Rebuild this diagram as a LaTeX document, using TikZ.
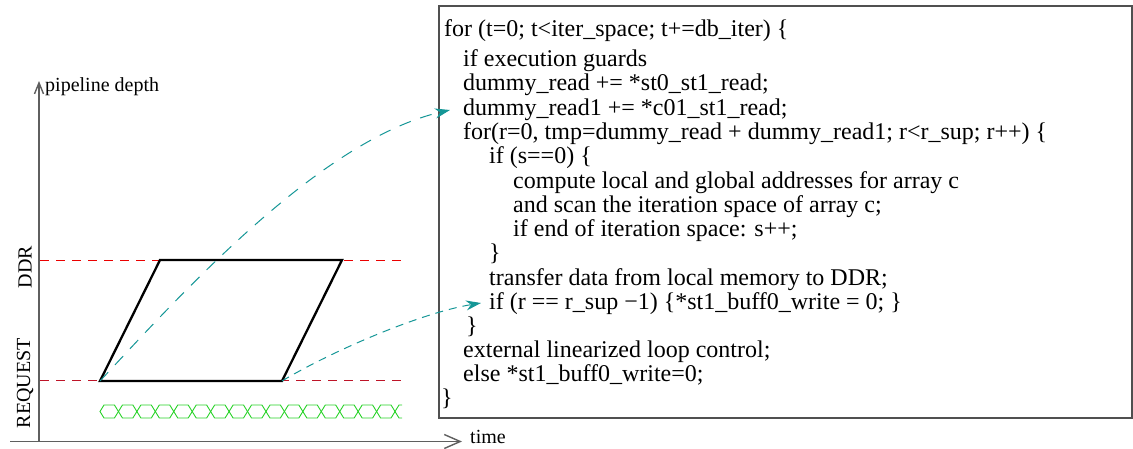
\documentclass[tikz,border=0pt]{standalone}
\usepackage{fontspec}
\setmainfont{Liberation Serif}
\usetikzlibrary{arrows.meta}
\definecolor{tealc}{RGB}{20,150,150}
\definecolor{redc}{RGB}{235,0,0}
\definecolor{darkredc}{RGB}{190,20,40}
\definecolor{greenc}{RGB}{40,210,40}
\definecolor{axisc}{RGB}{95,95,95}
\definecolor{boxc}{RGB}{80,80,80}
\begin{document}
\begin{tikzpicture}[x=1pt,y=-1pt,
  codeline/.style={anchor=base west, inner sep=0pt, font=\fontsize{24}{24}\selectfont},
  lbl/.style={inner sep=0pt, font=\fontsize{20}{24}\selectfont},
  axisline/.style={draw=axisc, line width=1.4pt},
  levelline/.style={line width=1pt, dash pattern=on 9pt off 7pt},
  pipe/.style={draw=black, line width=2.3pt, line join=miter},
  link/.style={draw=tealc, line width=1pt},
  chain/.style={draw=greenc, line width=0.9pt}]
\useasboundingbox (0,0) rectangle (1133,448);

% axes
\coordinate (o) at (39,441.5);
\coordinate (ytop) at (39,81);
\coordinate (xleft) at (10,441.5);
\coordinate (xright) at (462,441.5);
\draw[axisline, -{Straight Barb[length=11pt,width=9pt]}] (o) -- (ytop);
\draw[axisline, -{Straight Barb[length=16pt,width=14pt]}] (xleft) -- (xright);
\node[lbl, anchor=base west] (pd) at (45,91) {pipeline depth};
\node[lbl, anchor=base west] (tm) at (470,443) {time};
\node[lbl, rotate=90] (ddr) at (25,267) {DDR};
\node[lbl, rotate=90] (req) at (25,383) {REQUEST};

% levels
\coordinate (d0) at (40,260);
\coordinate (d1) at (402,260);
\coordinate (r0) at (40,380.5);
\coordinate (r1) at (402,380.5);
\draw[levelline, draw=redc] (d0) -- (d1);
\draw[levelline, draw=darkredc] (r0) -- (r1);

% pipeline parallelogram
\coordinate (A) at (100,381);
\coordinate (B) at (160,260);
\coordinate (C) at (342,260);
\coordinate (D) at (282,381);
\draw[pipe] (A) -- (B) -- (C) -- (D) -- cycle;

% green chain
\foreach \i in {0,...,15} {
  \pgfmathsetmacro\xx{100+18.44*\i}
  \draw[chain] (\xx,411.5) -- ++(4,-6.5) -- ++(10.44,0) -- ++(4,6.5) -- ++(-4,6.5) -- ++(-10.44,0) -- cycle;
}
\draw[chain] (402,405) -- (399,405) -- (395,411.5) -- (399,418) -- (402,418);

% code box
\draw[draw=boxc, line width=1.2pt] (439,6) rectangle (1132,418);
\node[codeline] (l1) at (444,36) {for (t=0; t<iter\_space; t+=db\_iter) \{};
\node[codeline] (l2) at (463,66) {if execution guards};
\node[codeline] (l3) at (463,90) {dummy\_read += *st0\_st1\_read;};
\node[codeline] (l4) at (463,115) {dummy\_read1 += *c01\_st1\_read;};
\node[codeline] (l5) at (463,139) {for(r=0, tmp=dummy\_read + dummy\_read1; r<r\_sup; r++) \{};
\node[codeline] (l6) at (489,163) {if (s==0) \{};
\node[codeline] (l7) at (513,188) {compute local and global addresses for array c};
\node[codeline] (l8) at (513,212) {and scan the iteration space of array c;};
\node[codeline] (l9) at (513,236) {if end of iteration space: s++;};
\node[codeline] (l10) at (489,260) {\}};
\node[codeline] (l11) at (489,285) {transfer data from local memory to DDR;};
\node[codeline] (l12) at (489,309) {if (r == r\_sup −1) \{*st1\_buff0\_write = 0; \}};
\node[codeline] (l13) at (466,333) {\}};
\node[codeline] (l14) at (463,357) {external linearized loop control;};
\node[codeline] (l15) at (463,381) {else *st1\_buff0\_write=0;};
\node[codeline] (l16) at (441,405) {\}};

% links
\coordinate (t1) at (450,110);
\coordinate (t2) at (481,303);
\draw[link, dash pattern=on 12pt off 10pt, -{Stealth[length=15pt,width=10pt,fill=tealc]}]
  (A) .. controls (180,295) and (320,140) .. (t1);
\draw[link, dash pattern=on 8pt off 6pt, -{Stealth[length=15pt,width=10pt,fill=tealc]}]
  (D) .. controls (330,352) and (420,313) .. (t2);
\end{tikzpicture}
\end{document}
